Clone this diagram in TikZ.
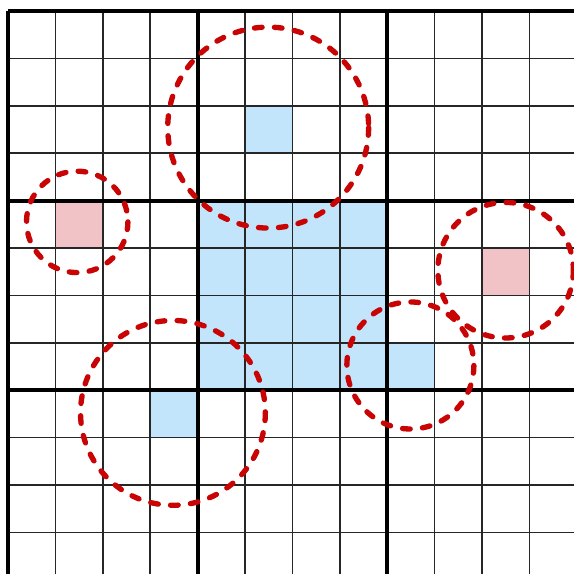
\documentclass[tikz,border=0pt]{standalone}
\usepackage{tikz}
\definecolor{cfill}{HTML}{C2E5FC}
\definecolor{cmark}{HTML}{F2C3C6}
\definecolor{cring}{HTML}{C80404}
\tikzset{
  gline/.style={line width=0.95pt, draw=black!85},
  bline/.style={line width=2.4pt, draw=black},
  hitcell/.style={fill=cfill},
  misscell/.style={fill=cmark},
  ring/.style={draw=cring, line width=3.2pt, line cap=round, dash pattern=on 4.6pt off 7.4pt},
}
\begin{document}
\begin{tikzpicture}[x=1cm,y=-1cm]
\clip (-0.169,-0.232) rectangle (11.94,11.88);
\fill[white] (-0.169,-0.232) rectangle (11.94,11.88);
% filled cells
\fill[hitcell] (5,2) rectangle (6,3);
\fill[hitcell] (4,4) rectangle (8,8);
\fill[hitcell] (8,7) rectangle (9,8);
\fill[hitcell] (3,8) rectangle (4,9);
\fill[misscell] (1,4) rectangle (2,5);
\fill[misscell] (10,5) rectangle (11,6);
% grid
\foreach \i in {0,...,12} {
  \draw[gline] (\i,0) -- (\i,12);
  \draw[gline] (0,\i) -- (12,\i);
}
\foreach \i in {0,4,8,12} {
  \draw[bline] (\i,0) -- (\i,12);
  \draw[bline] (0,\i) -- (12,\i);
}
% search radii
\draw[ring] (5.49,2.46) circle (2.12);
\draw[ring] (1.46,4.45) circle (1.07);
\draw[ring] (10.5,5.47) circle (1.43);
\draw[ring] (8.49,7.48) circle (1.34);
\draw[ring] (3.48,8.48) circle (1.95);
\end{tikzpicture}
\end{document}
